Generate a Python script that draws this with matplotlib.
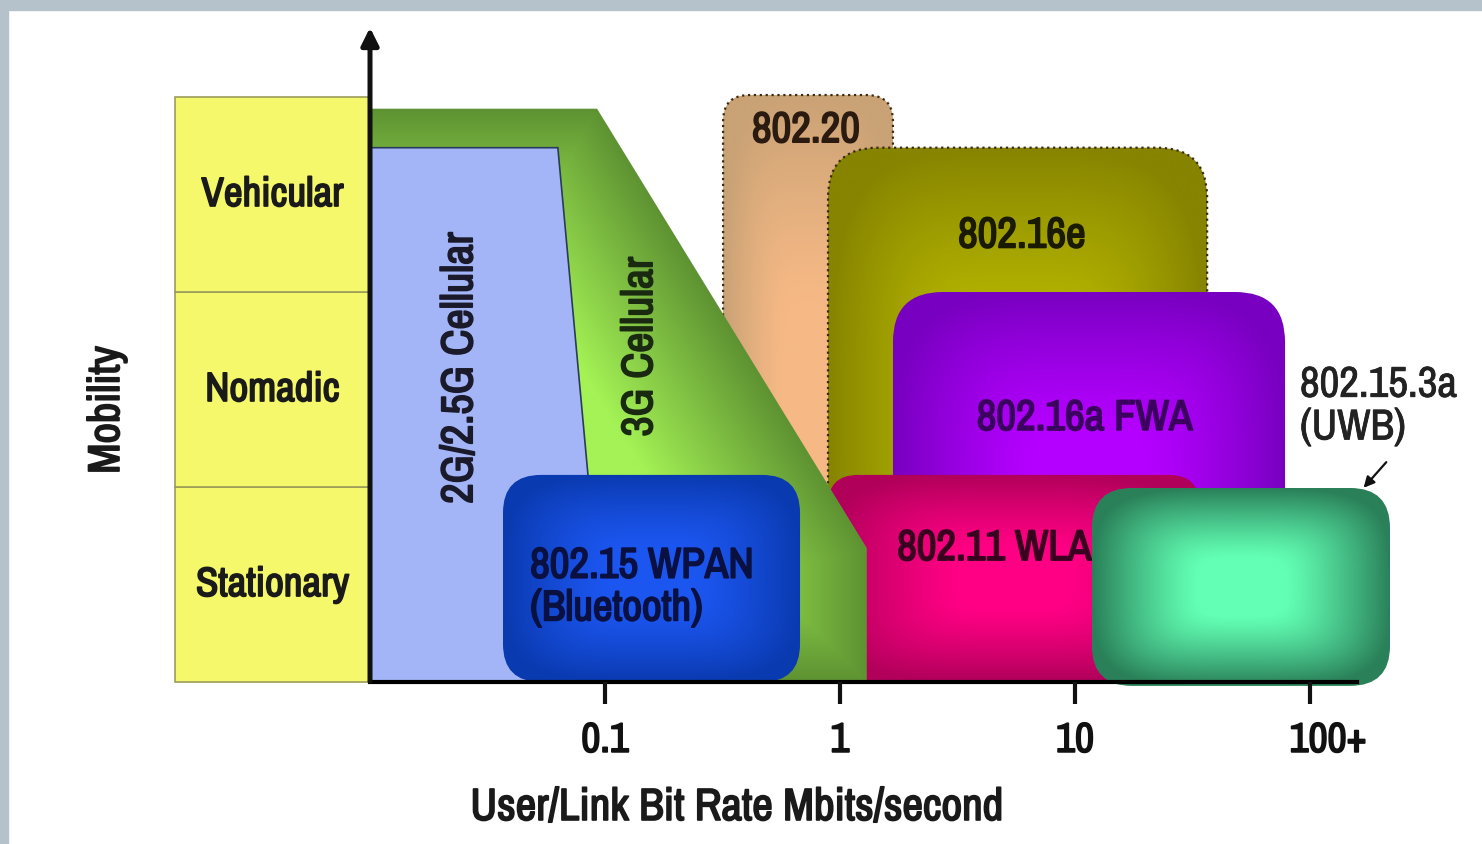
import numpy as np
import matplotlib
matplotlib.use('Agg')
import matplotlib.pyplot as plt
import matplotlib.patheffects as pe
import matplotlib.transforms as mtrans
from matplotlib.patches import FancyBboxPatch, Polygon, Rectangle
from matplotlib.colors import to_rgb

# ---------------- data (rates in Mbit/s, mobility in class units) ----------------
mobility_levels = ['Stationary', 'Nomadic', 'Vehicular']
tick_rates = [0.1, 1, 10, 100]
tick_labels = ['0.1', '1', '10', '100+']

cell2g_rate = [0.01, 0.063, 0.102, 0.01]
cell2g_mob = [2.74, 2.74, 0.0, 0.0]
cell3g_rate = [0.01, 0.0925, 1.30, 1.30, 0.01]
cell3g_mob = [2.94, 2.94, 0.687, 0.0, 0.0]

box_names = ['802.20', '802.16e', '802.16a FWA', '802.11 WLAN',
             '802.15 WPAN\n(Bluetooth)', '802.15.3a\n(UWB)']
box_rate_lo = [0.318, 0.889, 1.68, 0.889, 0.0368, 11.8]
box_rate_hi = [1.68, 36.5, 78.3, 33.8, 0.676, 219.0]
box_mob_lo = [0.0, 0.0, 0.0, 0.0, 0.0, -0.02]
box_mob_hi = [3.01, 2.74, 2.0, 1.062, 1.062, 0.995]
label_rate = [0.716, 5.94, 11.0, 1.75, 0.048, 90.6]
label_mob = [2.83, 2.29, 1.354, 0.687, 0.487, 1.415]

# ---------------- style ----------------
FONT = ['Archivo Narrow', 'Liberation Sans', 'DejaVu Sans']
W, H, DPI = 1482, 844, 100
XLIM = (-3.5745, 2.7319)      # log10(rate)
YLIM = (-0.8308, 3.4974)      # mobility units
sx = W / (XLIM[1] - XLIM[0])  # px per x unit
sy = H / (YLIM[1] - YLIM[0])  # px per y unit

box_center = ['#f6b985', '#b8b800', '#b400ff', '#ff0084', '#1c56f0', '#62ffb4']
box_edge = ['#c9a275', '#868400', '#7800c0', '#b0005a', '#0a3ab0', '#2a8059']
box_radius = [26, 50, 50, 30, 38, 40]
box_z = [3, 4, 5, 6, 8, 9]
box_outline = [':', ':', None, None, None, None]
label_color = ['#2a1a10', '#1a1a00', '#3c0060', '#3a0020', '#0a1040', '#222222']
label_ha = ['center', 'center', 'center', 'left', 'left', 'left']
label_stroke = [1.25, 1.25, 1.25, 1.25, 1.25, 0.6]


def bold(color, lw=1.25):
    return [pe.withStroke(linewidth=lw, foreground=color)]


fig = plt.figure(figsize=(W / DPI, H / DPI), dpi=DPI, facecolor='white')
ax = fig.add_axes([0, 0, 1, 1])
ax.set_facecolor('white')

# grey frame strips
fig.patches.append(Rectangle((0, 1 - 10 / H), 1, 10 / H, transform=fig.transFigure,
                             color='#b5c2cb', zorder=0))
fig.patches.append(Rectangle((0, 0), 8 / W, 1, transform=fig.transFigure,
                             color='#b5c2cb', zorder=0))


def grad_img(nx, ny, c_center, c_edge, plateau=0.3, power=1.2, p=4):
    u = np.linspace(-1, 1, nx)
    v = np.linspace(-1, 1, ny)
    U, V = np.meshgrid(u, v)
    s = (np.abs(U) ** p + np.abs(V) ** p) ** (1.0 / p)
    t = np.clip((s - plateau) / (1 - plateau), 0, 1) ** power
    cc = np.array(to_rgb(c_center))
    ce = np.array(to_rgb(c_edge))
    return cc[None, None, :] * (1 - t[..., None]) + ce[None, None, :] * t[..., None]


# mobility class boxes (yellow)
lx0 = np.log10(0.00148)
for i, name in enumerate(mobility_levels):
    ax.add_patch(Rectangle((lx0, i), np.log10(0.01) - lx0, 1, facecolor='#f4f86a',
                           edgecolor='#9c9c5a', lw=1.2, zorder=2))
    ax.text((lx0 + np.log10(0.01)) / 2, i + 0.5, name, ha='center', va='center',
            fontsize=29.5, family=FONT, color='#1a1a1a', zorder=3,
            path_effects=bold('#1a1a1a'))
ax.text(np.log10(0.00076), 1.395, 'Mobility', rotation=90, ha='center', va='center',
        fontsize=32, family=FONT, color='#1a1a1a', path_effects=bold('#1a1a1a'))

# rounded technology boxes with shaded fill
for i in range(len(box_names)):
    x0, x1 = np.log10(box_rate_lo[i]), np.log10(box_rate_hi[i])
    y0, y1 = box_mob_lo[i], box_mob_hi[i]
    r = box_radius[i] / sx
    patch = FancyBboxPatch((x0, y0), x1 - x0, y1 - y0,
                           boxstyle=f'round,pad=0,rounding_size={r}',
                           mutation_aspect=sx / sy, facecolor='none',
                           edgecolor='#3a2a10' if box_outline[i] else 'none',
                           linestyle=box_outline[i] or '-', lw=1.6, zorder=box_z[i] + 0.05)
    ax.add_patch(patch)
    nx = max(int((x1 - x0) * sx), 2)
    ny = max(int((y1 - y0) * sy), 2)
    im = ax.imshow(grad_img(nx, ny, box_center[i], box_edge[i]), extent=(x0, x1, y0, y1),
                   origin='lower', aspect='auto', interpolation='bilinear', zorder=box_z[i])
    im.set_clip_path(patch)

# text labels of boxes
for i, name in enumerate(box_names):
    lx = np.log10(label_rate[i])
    z = box_z[i] + 0.2
    ax.text(lx, label_mob[i], name, ha=label_ha[i], va='center', fontsize=31,
            family=FONT, color=label_color[i], zorder=z, linespacing=1.15,
            path_effects=bold(label_color[i], label_stroke[i]))

# 3G cellular polygon with shading
gx = np.log10(cell3g_rate)
gy = np.array(cell3g_mob)
green = Polygon(np.column_stack([gx, gy]), closed=True, facecolor='none',
                edgecolor='none', zorder=6.5)
ax.add_patch(green)
nxg, nyg = 400, 400
X, Y = np.meshgrid(np.linspace(gx.min(), gx.max(), nxg) * sx,
                   np.linspace(gy.min(), gy.max(), nyg) * sy)


def seg_dist(px, py, ax_, ay_, bx, by):
    dx, dy = bx - ax_, by - ay_
    L2 = dx * dx + dy * dy
    t = np.clip(((px - ax_) * dx + (py - ay_) * dy) / L2, 0, 1)
    return np.hypot(px - (ax_ + t * dx), py - (ay_ + t * dy))


d = np.full(X.shape, 1e9)
for k in range(len(gx) - 1):
    d = np.minimum(d, seg_dist(X, Y, gx[k] * sx, gy[k] * sy, gx[k + 1] * sx, gy[k + 1] * sy))
tg = np.clip(d / 150.0, 0, 1)
cc, ce = np.array(to_rgb('#a4f255')), np.array(to_rgb('#5e9232'))
gimg = ce[None, None, :] * (1 - tg[..., None]) + cc[None, None, :] * tg[..., None]
gim = ax.imshow(gimg, extent=(gx.min(), gx.max(), gy.min(), gy.max()), origin='lower',
                aspect='auto', interpolation='bilinear', zorder=6.5)
gim.set_clip_path(green)
ax.text(np.log10(0.141), 1.72, '3G Cellular', rotation=90, ha='center', va='center',
        fontsize=31.5, family=FONT, color='#1a2a10', zorder=6.7,
        path_effects=bold('#1a2a10'))

# 2G / 2.5G cellular polygon
ax.add_patch(Polygon(np.column_stack([np.log10(cell2g_rate), cell2g_mob]), closed=True,
                     facecolor='#a3b5f7', edgecolor='#2a3a5a', lw=1.2, zorder=7))
ax.text(np.log10(0.0242), 1.61, '2G/2.5G Cellular', rotation=90, ha='center', va='center',
        fontsize=32, family=FONT, color='#1a1a2a', zorder=7.5,
        path_effects=bold('#1a1a2a'))

# UWB pointer arrow
ax.annotate('', xy=(np.log10(166), 0.985), xytext=(np.log10(215), 1.138),
            arrowprops=dict(arrowstyle='-|>', color='#111111', lw=1.6, mutation_scale=16),
            zorder=12)

# axes: x axis with log ticks, y arrow
ax.set_xlim(*XLIM)
ax.set_ylim(*YLIM)
for s in ['top', 'right', 'left']:
    ax.spines[s].set_visible(False)
ax.spines['bottom'].set_position(('data', 0))
ax.spines['bottom'].set_bounds(-2, 2.2)
ax.spines['bottom'].set_linewidth(3)
ax.spines['bottom'].set_zorder(11)
ax.set_xticks(np.log10(tick_rates))
ax.set_xticklabels(tick_labels)
ax.set_yticks([])
ax.tick_params(axis='x', direction='out', length=16, width=3, pad=12, labelsize=30,
               colors='#111111')
for lab in ax.get_xticklabels():
    lab.set_fontfamily(FONT)
    lab.set_path_effects(bold('#111111'))
last = ax.get_xticklabels()[-1]
last.set_transform(last.get_transform() +
                   mtrans.ScaledTranslation(0.18, 0, fig.dpi_scale_trans))
ax.xaxis.set_zorder(11)
ax.annotate('', xy=(-2, 3.37), xytext=(-2, -0.01),
            arrowprops=dict(arrowstyle='-|>', color='#111111', lw=3.6, mutation_scale=26),
            zorder=12)

ax.text(np.log10(0.365), -0.646, 'User/Link Bit Rate Mbits/second', ha='center', va='center',
        fontsize=32.5, family=FONT, color='#1a1a1a', path_effects=bold('#1a1a1a'))

fig.savefig('out.png', dpi=DPI, facecolor='white')
